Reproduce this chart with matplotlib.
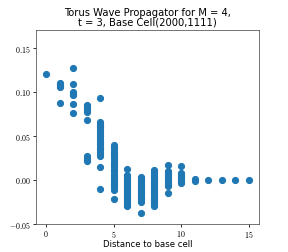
import matplotlib
matplotlib.use('Agg')
import matplotlib.pyplot as plt
from matplotlib.ticker import FuncFormatter

plt.rcParams['mathtext.fontset'] = 'cm'

# valores, agrupados por distancia
d0 = [0.121]
d1 = [0.111, 0.109, 0.107, 0.106, 0.088]
d2 = [0.128, 0.109, 0.100, 0.098, 0.097, 0.087, 0.076]
d3 = [0.086, 0.084, 0.082, 0.080, 0.078, 0.068, 0.027, 0.024, 0.022]
d4 = [0.094, 0.066, 0.064, 0.062, 0.060, 0.058, 0.055, 0.052, 0.050, 0.047,
      0.045, 0.042, 0.040, 0.037, 0.035, 0.032, 0.030, 0.028, 0.015, -0.010]
d5 = [0.040, 0.038, 0.035, 0.032, 0.030, 0.027, 0.025, 0.022, 0.020, 0.017,
      0.015, 0.012, 0.010, 0.007, 0.005, 0.002, 0.000, -0.002, -0.004, -0.006,
      -0.008, -0.011, -0.022]
d6 = [0.013, 0.006, 0.004, 0.002, 0.000, -0.002, -0.004, -0.006, -0.008, -0.010,
      -0.012, -0.014, -0.016, -0.018, -0.020, -0.022, -0.024, -0.026, -0.028, -0.030]
d7 = [0.004, 0.002, 0.000, -0.002, -0.004, -0.006, -0.008, -0.010, -0.012, -0.014,
      -0.016, -0.018, -0.020, -0.022, -0.025, -0.037]
d8 = [0.011, 0.009, 0.007, 0.005, 0.003, 0.001, -0.001, -0.003, -0.005, -0.007,
      -0.009, -0.011, -0.013, -0.015, -0.017, -0.019, -0.021, -0.023, -0.025,
      -0.027, -0.030]
d9 = [0.017, 0.010, 0.008, 0.006, 0.004, 0.002, 0.000, -0.002, -0.004, -0.007, -0.015]
d10 = [0.016, 0.008, 0.006, 0.004, 0.002, 0.000, -0.002, -0.003]
d11 = [0.001, -0.001]
d12 = [0.0]
d13 = [0.0]
d14 = [0.0]
d15 = [0.0]

grupos = [d0, d1, d2, d3, d4, d5, d6, d7, d8, d9, d10, d11, d12, d13, d14, d15]
xs = []
ys = []
for dist, vals in enumerate(grupos):
    xs += [dist]*len(vals)
    ys += vals

fig = plt.figure(figsize=(4, 3.5), dpi=72)
ax = fig.add_axes([0.125, 0.111, 0.774, 0.770])
ax.scatter(xs, ys, s=38, color='#1f77b4')
ax.set_ylim(-0.05, 0.171)
ax.set_xticks([0, 5, 10, 15])
ax.set_yticks([-0.05, 0.0, 0.05, 0.10, 0.15])
ax.xaxis.set_major_formatter(FuncFormatter(lambda v, p: r'$%d$' % v))
ax.yaxis.set_major_formatter(FuncFormatter(lambda v, p: r'$%.2f$' % v))
ax.tick_params(labelsize=8, length=3, pad=2)
for sp in ax.spines.values():
    sp.set_color('#555555')
ax.set_title('Torus Wave Propagator for M = 4,\nt = 3, Base Cell(2000,1111)', fontsize=10, linespacing=1.0, pad=4)
ax.set_xlabel('Distance to base cell', fontsize=8.5, labelpad=0)

fig.savefig('out.png', dpi=72)
